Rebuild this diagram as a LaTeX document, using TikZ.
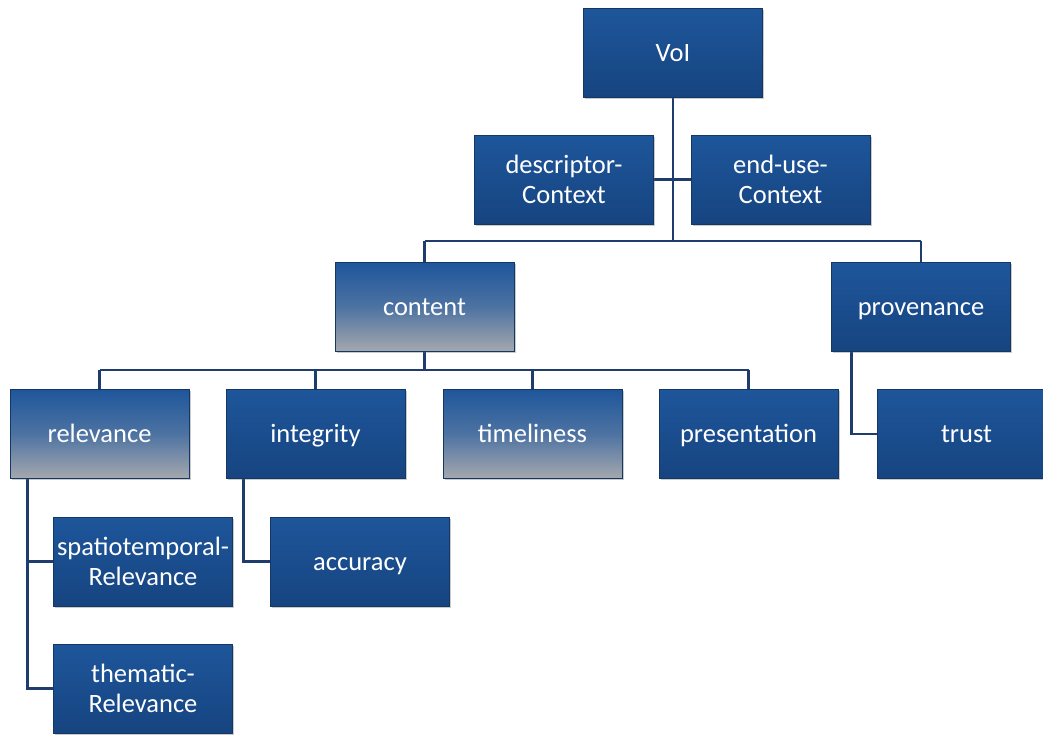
\documentclass[tikz,border=0pt]{standalone}
\usepackage{fontspec}
\setmainfont{Carlito}
\usetikzlibrary{shadows,backgrounds,calc}
\definecolor{boxtop}{RGB}{30,86,155}
\definecolor{boxbot}{RGB}{22,68,128}
\definecolor{boxgray}{RGB}{165,168,174}
\definecolor{linec}{RGB}{30,60,110}
\definecolor{edgec}{RGB}{20,55,100}
\tikzset{
  base/.style={minimum width=179pt, minimum height=89pt, inner sep=0pt,
    text=white, font=\fontsize{26.5}{30}\selectfont, draw=edgec, line width=0.6pt,
    top color=boxtop, bottom color=boxbot,
    drop shadow={shadow xshift=1.5pt, shadow yshift=-1.5pt, opacity=0.35, fill=black!60}},
  box/.style={base, align=center},
  onebox/.style={base, text height=17pt, text depth=0pt},
  gbox/.style={onebox, top color=boxtop, bottom color=boxgray, middle color=boxtop!65!boxgray},
  conn/.style={draw=linec, line width=2.6pt}
}
\begin{document}
\begin{tikzpicture}[x=1pt,y=-1pt]
\useasboundingbox (0,0) rectangle (1043,734);
\begin{scope}
\clip (0,0) rectangle (1043,734);
% boxes
\node[onebox] (voi) at (673,52.5) {VoI};
\node[box] (desc) at (564,179.5) {descriptor-\\Context};
\node[box] (endu) at (780.5,179.5) {end-use-\\Context};
\node[gbox] (cont) at (424.5,307) {content};
\node[onebox] (prov) at (921,307) {provenance};
\node[gbox] (rel) at (99.5,434) {relevance};
\node[onebox] (integ) at (315.5,434) {integrity};
\node[gbox] (time) at (532.5,434) {timeliness};
\node[onebox] (pres) at (748.5,434) {presentation};
\node[onebox] (trust) at (966.5,434) {trust};
\node[box] (spat) at (143,561.5) {spatiotemporal-\\Relevance};
\node[box] (them) at (143,688.5) {thematic-\\Relevance};
\node[onebox] (acc) at (360,561.5) {accuracy};
% junction coordinates
\coordinate (j0) at (voi.south |- 0,241);
\coordinate (jc) at (voi.south |- desc.east);
\coordinate (jL) at (cont.north |- j0);
\coordinate (jR) at (prov.north |- j0);
\coordinate (k0) at (cont.south |- 0,370);
\coordinate (kL) at (rel.north |- k0);
\coordinate (kR) at (pres.north |- k0);
\coordinate (rs) at ($(rel.south west)+(18,0)$);
\coordinate (is) at ($(integ.south west)+(18,0)$);
\coordinate (ps) at ($(prov.south west)+(20,0)$);
% connectors behind boxes
\begin{scope}[on background layer]
\draw[conn] (voi.south) -- (j0);
\draw[conn] (jL) -- (jR);
\draw[conn] (jL) -- (cont.north);
\draw[conn] (jR) -- (prov.north);
\draw[conn] (desc.east) -- (jc);
\draw[conn] (endu.west) -- (jc);
\draw[conn] (cont.south) -- (k0);
\draw[conn] (kL) -- (kR);
\draw[conn] (kL) -- (rel.north);
\draw[conn] (integ.north |- k0) -- (integ.north);
\draw[conn] (time.north |- k0) -- (time.north);
\draw[conn] (kR) -- (pres.north);
\draw[conn] (rs) -- (rs |- them.west) -- (them.west);
\draw[conn] (rs |- spat.west) -- (spat.west);
\draw[conn] (is) -- (is |- acc.west) -- (acc.west);
\draw[conn] (ps) -- (ps |- trust.west) -- (trust.west);
\end{scope}
\end{scope}
\end{tikzpicture}
\end{document}
